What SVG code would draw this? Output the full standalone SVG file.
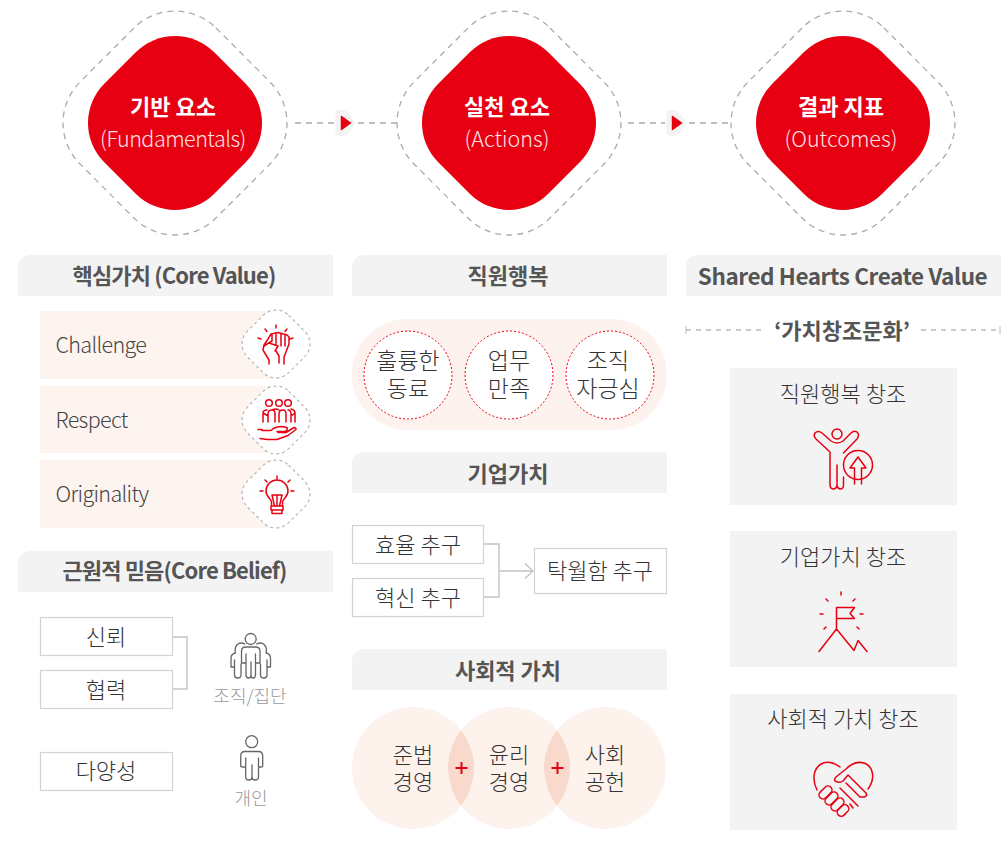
<svg xmlns="http://www.w3.org/2000/svg" width="1007" height="841" viewBox="0 0 1007 841">
<style>
text{font-family:"Noto Sans CJK KR","Noto Sans",sans-serif;text-anchor:middle}
.hd{font-size:22px;font-weight:700;fill:#555}
.hl{letter-spacing:-.86px}
.lt{font-size:22px;font-weight:300;fill:#333}
.lg{font-size:23px}
.row{font-size:21.500px;font-weight:300;fill:#444;text-anchor:start;letter-spacing:-.65px}
.t1{font-size:22px;font-weight:700;fill:#fff}
.t2{font-size:21.500px;font-weight:300;fill:#fde4e4}
.cap{font-size:18px;font-weight:300;fill:#999}
.dash{fill:none;stroke:#aaa;stroke-width:1.3;stroke-dasharray:6 5}
.box{fill:#fff;stroke:#d2d2d2;stroke-width:1.2}
.ln{fill:none;stroke:#c4c4c4;stroke-width:1.4}
.ic{fill:none;stroke:#e60012;stroke-width:1.5;stroke-linecap:round;stroke-linejoin:round}
.gi{fill:none;stroke:#666;stroke-width:1.3;stroke-linecap:round;stroke-linejoin:round}
.band{fill:#f3f3f3}
.pk{fill:#fdf4f0}
.pan{fill:#f3f3f3}
</style>
<defs>
<path id="dOut" class="dash" d="M41,-95L95,-41A58,58 0 0 1 95,41L41,95A58,58 0 0 1 -41,95L-95,41A58,58 0 0 1 -95,-41L-41,-95A58,58 0 0 1 41,-95Z"/>
<path id="dIn" fill="#e60012" d="M39,-71L71,-39A55.5,55.5 0 0 1 71,39L39,71A55.5,55.5 0 0 1 -39,71L-71,39A55.5,55.5 0 0 1 -71,-39L-39,-71A55.5,55.5 0 0 1 39,-71Z"/>
<path id="dSm" fill="#fff" stroke="#b5b5b5" stroke-width="1.2" stroke-dasharray="3 3" d="M12.7,-28.7L28.7,-12.7A18,18 0 0 1 28.7,12.7L12.7,28.7A18,18 0 0 1 -12.7,28.7L-28.7,12.7A18,18 0 0 1 -28.7,-12.7L-12.7,-28.7A18,18 0 0 1 12.7,-28.7Z"/>
<path id="hdr" d="M0,41V12A12,12 0 0 1 12,0H315V41Z"/>
<g id="play"><path d="M-6,-13Q-9.500,-13 -9.500,-9V9Q-9.500,13 -6,13H-2Q1,13 4,9.500L9,2.500Q10.500,0 9,-2.500L4,-9.500Q1,-13 -2,-13Z" fill="#f3f3f3"/><path d="M-3.500,-6.500V6.500L5.500,0Z" fill="#e60012" stroke="#e60012" stroke-width="1.500" stroke-linejoin="round"/></g>
</defs>

<g id="connectors">
<path class="dash" d="M295,123H334M358,123H397M628,123H665M689,123H730"/>
<use href="#play" x="345" y="123"/>
<use href="#play" x="676" y="123"/>
<path class="ln" d="M173,637H187V689H173"/>
<path class="ln" d="M484,544H499V597H484M499,571H533M525,563.500L533,571L525,578.500" stroke-width="1.2"/>
<path d="M686,330H763M921,330H1000" class="dash" stroke-width="1" style="stroke-dasharray:5 5;stroke:#bbb"/>
<path d="M686,326V334M1000,326V334" fill="none" stroke="#bbb"/>
</g>

<g id="node-fundamentals">
<use href="#dOut" x="175" y="123"/><use href="#dIn" x="175" y="123"/>
<text class="t1" x="173" y="115">기반 요소</text><text class="t2" x="173" y="147" style="letter-spacing:-.5px">(Fundamentals)</text>
</g>
<g id="node-actions">
<use href="#dOut" x="509" y="123"/><use href="#dIn" x="509" y="123"/>
<text class="t1" x="507" y="115">실천 요소</text><text class="t2" x="507" y="147">(Actions)</text>
</g>
<g id="node-outcomes">
<use href="#dOut" x="843" y="123"/><use href="#dIn" x="843" y="123"/>
<text class="t1" x="841" y="115">결과 지표</text><text class="t2" x="841" y="147">(Outcomes)</text>
</g>

<g id="col1-header"><use class="band" href="#hdr" x="18" y="255"/><text class="hd hl" x="174" y="284">핵심가치 (Core Value)</text></g>
<g id="col2-header"><use class="band" href="#hdr" x="352" y="255"/><text class="hd" x="508" y="284">직원행복</text></g>
<g id="col3-header"><use class="band" href="#hdr" x="686" y="255"/><text class="hd" x="842.500" y="285" style="font-size:22.500px;letter-spacing:-.42px">Shared Hearts Create Value</text></g>

<g id="value-challenge"><rect class="pk" x="40" y="311" width="240" height="68"/><use href="#dSm" x="276" y="344"/><text class="row" x="55.500" y="353">Challenge</text>
<path class="ic" d="M269,364V360L263,350L264,345L268,339L271,334L278,332.500L287,335L289,337V344L286,352L284,357V364M272,334V341L264,346M276,333V345M281,333.500V346M285,335V346M269,343L278,346L275,351M276,351L279,356V363M276,325V328M265,329L267,331.500M287,329L285,331.500M258,338L261,339M293,338L290,339"/></g>
<g id="value-respect"><rect class="pk" x="40" y="386" width="240" height="67"/><use href="#dSm" x="276" y="420"/><text class="row" x="55.500" y="428">Respect</text>
<g transform="translate(0,-3.500)"><path class="ic" d="M262,434H271C274,431 279,430 282,430L287,431Q288,434 285,435L277,435M278,436H286L294,431Q296,431 296,433L288,439L277,443H267L260,442M258,433H262"/></g>
<path class="ic" d="M263,422V413Q263,410 267,410M268,422V414Q268,410 272,410Q275,410 275,414V422M279,422V414Q279,410 283,410Q286,410 286,414V422M291,422V414Q291,410 288,410M295,422V413Q295,410 291,409M272,410Q276,408 279,410M263,413L268,416M295,413L291,416"/>
<circle class="ic" cx="269" cy="403" r="3.300"/><circle class="ic" cx="279" cy="403" r="3.300"/><circle class="ic" cx="288" cy="403" r="3.300"/></g>
<g id="value-originality"><rect class="pk" x="40" y="460" width="240" height="68"/><use href="#dSm" x="276" y="494"/><text class="row" x="55.500" y="502">Originality</text>
<path class="ic" d="M271.500,506V502C271.500,499 266,497 266,491A11,11 0 0 1 288,491C288,497 282.500,499 282.500,502V506M271,506H283V510H271ZM272,510V513.500H282V510M272,495L274.500,506M282,495L279.500,506M272,495H282M277,495V506M277,476V479M265,480L267,482M288,482L290,480M260,491H263M291,491H294"/></g>

<g id="col1-sub"><path class="band" d="M18,592V563A12,12 0 0 1 30,551H333V592Z"/><text class="hd hl" x="174.500" y="579">근원적 믿음(Core Belief)</text></g>
<g id="belief-trust"><rect class="box" x="40.500" y="617.500" width="132" height="38"/><text class="lt" x="106" y="645">신뢰</text></g>
<g id="belief-cooperation"><rect class="box" x="40.500" y="670.500" width="132" height="38"/><text class="lt" x="106" y="698">협력</text></g>
<g id="belief-diversity"><rect class="box" x="40.500" y="752.500" width="132" height="38"/><text class="lt" x="106" y="779">다양성</text></g>
<g id="group-icon">
<circle class="gi" cx="250.700" cy="639" r="5.500"/>
<path class="gi" d="M241.500,663V651Q241.500,647 246,647H255.500Q260,647 260,651V663M241.500,663H246M260,663H255.500M246,654V675Q246,678 248.500,678Q251,678 251,675V662V675Q251,678 253,678Q255.500,678 255.500,675V654"/>
<path class="gi" d="M235.500,653Q234,647 238,644Q241,642 245,644M231,667V658Q231,654 235.500,653M231,667H234.500M234.500,660V675Q234.500,678 237.500,678Q241,678 241,675V664M266,653Q267.500,647 263.500,644Q260.500,642 256.500,644M270.500,667V658Q270.500,654 266,653M270.500,667H267M267,660V675Q267,678 264,678Q260.500,678 260.500,675V664"/>
<text class="cap" x="250" y="703">조직/집단</text></g>
<g id="person-icon">
<circle class="gi" cx="251.700" cy="741.700" r="6"/>
<path class="gi" d="M245,751.500H258.500Q262.700,751.500 262.700,756V766Q262.700,767 261,767H258.500V777Q258.500,780 255,780Q252,780 252,777V765V777Q252,780 249,780Q245.700,780 245.700,777V767H243Q240.700,767 240.700,766V756Q240.700,751.500 245,751.500ZM245.700,758V767M258.500,758V767"/>
<text class="cap" x="251" y="805">개인</text></g>

<g id="col2-pill">
<rect x="352" y="319" width="315" height="111" rx="55.500" fill="#fdf2ed"/>
<g fill="#fff" stroke="#e60012" stroke-width="1" stroke-dasharray="2 2"><circle cx="408" cy="375" r="44"/><circle cx="509" cy="375" r="44"/><circle cx="610" cy="375" r="44"/></g>
<text class="lt lg" x="408" y="369">훌륭한<tspan x="408" dy="28">동료</tspan></text>
<text class="lt lg" x="509" y="369">업무<tspan x="509" dy="28">만족</tspan></text>
<text class="lt lg" x="608" y="369">조직<tspan x="608" dy="28">자긍심</tspan></text>
</g>
<g id="col2-sub1"><path class="band" d="M352,493V464A12,12 0 0 1 364,452H667V493Z"/><text class="hd" x="508" y="482">기업가치</text></g>
<g id="goal-eff"><rect class="box" x="352.500" y="525.500" width="131" height="38"/><text class="lt" x="418" y="553">효율 추구</text></g>
<g id="goal-inn"><rect class="box" x="352.500" y="578.500" width="131" height="38"/><text class="lt" x="418" y="606">혁신 추구</text></g>
<g id="goal-exc"><rect class="box" x="534.500" y="548.500" width="132" height="45"/><text class="lt" x="600" y="579">탁월함 추구</text></g>
<g id="col2-sub2"><path class="band" d="M352,690V661A12,12 0 0 1 364,649H667V690Z"/><text class="hd" x="508" y="679">사회적 가치</text></g>
<g id="venn">
<circle cx="413" cy="768" r="61" fill="#fdf2ec"/><circle cx="509" cy="768" r="61" fill="#fdf2ec"/><circle cx="605" cy="768" r="61" fill="#fdf2ec"/>
<path d="M461,730.400A61,61 0 0 1 461,805.600A61,61 0 0 1 461,730.400ZM557,730.400A61,61 0 0 1 557,805.600A61,61 0 0 1 557,730.400Z" fill="#f8d9cb"/>
<path d="M455.500,768H467.500M461.500,762V774M551.500,768H563.500M557.500,762V774" stroke="#e60012" stroke-width="2" fill="none"/>
<text class="lt" x="413" y="763">준법<tspan x="413" dy="27">경영</tspan></text>
<text class="lt" x="509" y="763">윤리<tspan x="509" dy="27">경영</tspan></text>
<text class="lt" x="605" y="763">사회<tspan x="605" dy="27">공헌</tspan></text>
</g>

<g id="col3-sub"><text x="842" y="339" style="font-size:22px;font-weight:700;fill:#555">‘가치창조문화’</text></g>
<g id="panel-1"><rect class="pan" x="730" y="368" width="227" height="137"/><text class="lt" x="843" y="402">직원행복 창조</text>
<circle class="ic" cx="837" cy="434" r="5"/>
<path class="ic" d="M843.500,453L857,439Q860,435 857,432Q854,430 851,433L843,441Q837,445 831,441L822,433Q818,430 815,433Q813,436 816,439L830,452V485Q830,489 834,489Q837,488 837,485V465V485Q837,488 840,489Q843.500,489 843.500,485V477"/>
<circle class="ic" cx="858" cy="465" r="14.500"/>
<path class="ic" d="M858,457L850,468H854.500V484M858,457L866,468H861.500V484"/></g>
<g id="panel-2"><rect class="pan" x="730" y="531" width="227" height="136"/><text class="lt" x="843" y="565">기업가치 창조</text>
<path class="ic" d="M836.500,629V607.500H854.500L850,613.500L854.500,618.500H836.500M819,651.500L836.500,629L854,650.500L858,640.500L867,651.500M841,592V595M826,599L828,601M853,601L855,599M820,614H823M860,614H863M824,629L826,627M857,627L859,629"/></g>
<g id="panel-3"><rect class="pan" x="730" y="694" width="227" height="136"/><text class="lt" x="843" y="727">사회적 가치 창조</text>
<path class="ic" d="M840,767C834,762 826,761 821,764C813,769 812,780 817,790M868,789C876,778 873,766 864,763C857,761 851,764 846,769L836,777Q833,780 836,781.500Q840,783 843,781L848,775L866,793Q868,796 864,797H860M840,788L858,806M846,783L860,797M850,804L853,808"/>
<g class="ic"><rect x="821.500" y="785" width="8" height="15" rx="4" transform="rotate(45 825.500 792.500)"/><rect x="827.500" y="791" width="8" height="15" rx="4" transform="rotate(45 831.500 798.500)"/><rect x="833.500" y="797" width="8" height="15" rx="4" transform="rotate(45 837.500 804.500)"/><rect x="839" y="804" width="8" height="13" rx="4" transform="rotate(45 843 810.500)"/></g></g>
</svg>
